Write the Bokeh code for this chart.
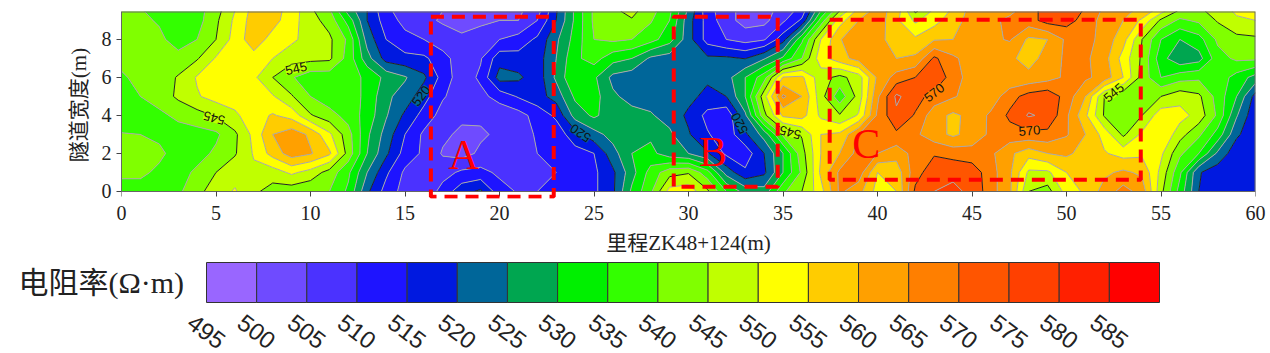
from math import radians
import numpy as np
from bokeh.core.properties import value
from bokeh.embed import file_html
from bokeh.layouts import column
from bokeh.models import BoxAnnotation, FixedTicker, LinearAxis, Range1d
from bokeh.plotting import figure
from bokeh.resources import INLINE

distance = list(range(61))
width_m = [0, 1, 2, 3, 4, 5, 6, 7, 8, 9, 9.5]

r_y0 = [538,538,538,539,543.5,547.5,550.5,546,543,542,541,540,534,521,513,508,506,512,518,521,512,509.5,510,511,512,514,519,531,539,552,553,546,535,528,527,539,545,553,566,562,553,555,571,575,576,574,567,561,545,543,552,556,562,567,563,546.5,533,520,516,516,516]
r_y1 = [541,541,539,538,541,545,548,549,547.5,551,548,543,536,525,516,509,507,508,511,511.5,509,509,509,510,512,514,519,528,537,543,544.5,537,523,516,519,530,541,556,566,568,555,557,568,573,574,573,567,561,549,549,555,559,559,561,559,548.5,536,520.5,517,516,516]
r_y2 = [541,542,541,538,538,541,544.5,550.5,557,562.5,560.5,556,543,530,521,513,509,504.5,503,506,508,509,510,511,513,515,523,530,531.5,527,525,520.5,514,512,520,530,543,555,560,567,565,562,567,569.5,568,567,566,561,557,560,561,558,555.5,553,554,551,541,535,524,516.5,516]
r_y3 = [540.3,540,539,538,538,539,544,551.5,560,563,559,551,542,531,523,515,509,506,504,504.2,506,508,510.5,512,518,523,527,528,529,526,520.5,515.5,512,519,527,541,545.5,555,556,565,568,569,566,562,559,562,566,568,568.5,568.5,565.5,560,553,544,551,555,547,541,533,521,516]
r_y4 = [537,537.5,539,541,543,545.5,549,553,555.5,553,545.5,542,538,533,525.5,519,513,508,506,506,506.5,508,512,516,527,531,527,527,525.5,523,519,513.5,511,524,543.5,556,557,549,545.5,550.5,566,574,569.5,562,559,561.5,566,571,575.5,574,566,556,544.5,541,545,553,552,548,539,525.5,516]
r_y5 = [538,540,542,546,549.5,552,552.5,552.5,550.5,545.5,540,537,537,534,526,523,517,510.5,507.5,508.5,512,515.5,518,522,531,532,526,523,523,525,521.5,518.5,520,530,548,566,560,547,537,547,564,576,572,568,565.5,563,562,568,572,573.5,568,560,545,541,543,545,548,546,538,530,518]
r_y6 = [539.5,541,542,545.5,550.5,552,552,551,545,540.5,537,537,537,534,528.5,525.5,521,513,507,511,522,521,517,526,535,531,523.5,522,522,522,521,521,523,530,538,555.5,556,547,543.5,547.5,561,567,570,575,567,563,560,561,561.5,563,566,566,563,555,543,535,538,539,538,533,528]
r_y7 = [541,541,541,541.5,544.5,550.5,552,553,550,547,546.5,546,538,527,518,516.5,516,512,507,509.5,518,517,517.5,525,534,537,532,530,524,522.5,522,521,521,519.8,524.5,531,540,553,558,562,561,560,561,571,566,562.5,561,561,558,562,566,566,562,553,544,532,526,528,538,541,541]
r_y8 = [541,541.5,541,538,540,545,552,558,553,551,548,546,539,523,515,511.5,510,507,506,508.5,510,512,516,524,532,540,541,540,537,532,522,513,510,508,509.5,518,534,550,559.5,565,563,555.5,556,559.5,560,562,564,565.5,559,560,566,567,563,557,545,535,530,533,541,543.5,544]
r_y9 = [541,541,539.5,537.5,538,544,551,557.5,557,552,547,543,533,520,512.5,508.5,506,504.5,503,503.5,505,505,510,520,531,541,543,544.5,540.5,535,522,513,507,503,503.5,509,516,537,553,560,563,556,549,553,558,562,564,566,568,572,572,568,563,560,554,544,539,541,545.5,549,550]
r_y95 = [541,540.5,538,537,538,543,550,557,557,553,546,541,528,520,511,508,506,505,503,503.5,504,504,508,519.5,531,541,544,546.5,542,536,524,512,507,503,503,507,512,530,545,557,562,558,544,551,556,562,563,564,567,573,575,569,564,561,559,552,544,544,547,551,552]

band_edges = [495 + 5 * i for i in range(20)]
band_labels = [str(v) for v in band_edges[:19]]
band_colors = ["#9966FF","#6F4BFF","#4B32FF","#1E14FF","#0019E0","#006699","#00A650","#00F000","#33FF00",
               "#80FF00","#C0FF00","#FFFF00","#FFCC00","#FFA000","#FF7F00","#FF5500","#FF4000","#FF2000","#FF0000"]
line_colors = ["#222222" if v in (520, 545, 570) else "#A8A8A8" for v in band_edges]

contour_text = ["545", "545", "520", "520", "520", "545", "570", "570", "545"]
contour_x = [4.9, 9.24, 15.85, 24.28, 32.7, 35.37, 43.0, 48.04, 52.5]
contour_y = [3.86, 6.47, 5.03, 3.07, 3.58, 3.1, 5.2, 3.2, 5.2]
contour_angle = [165, 13, 52, 146, 118, 165, 38, 5, 40]
contour_bg = ["#C0FF00", "#C0FF00", "#006699", "#006699", "#006699", "#C0FF00", "#FF7F00", "#FF7F00", "#C0FF00"]

zone_text = ["A", "B", "C"]
zone_x = [18.1, 31.3, 39.4]
zone_y = [1.94, 2.05, 2.5]
zone_left = [16.37, 29.22, 37.47]
zone_right = [22.87, 34.72, 53.93]
zone_top = [9.19, 9.19, 9.04]
zone_bottom = [-0.28, 0.25, 0.62]

x_ticks = list(range(0, 61, 5))
y_ticks = [0, 2, 4, 6, 8]

SERIF = "Liberation Serif, Noto Sans CJK SC"
SANS = "Liberation Sans"
FRAME = "#666666"
Y_TOP = 9.47

z = np.array([r_y0, r_y1, r_y2, r_y3, r_y4, r_y5, r_y6, r_y7, r_y8, r_y9, r_y95])

# frame reaches a little below y=0 so that box A's lower edge stays visible
p = figure(width=1270, height=258, output_backend="svg", toolbar_location=None,
           x_range=Range1d(0, 60), y_range=Range1d(-0.372, Y_TOP), frame_align=False,
           min_border_left=121, min_border_right=15, min_border_top=11, min_border_bottom=60,
           x_axis_label="里程ZK48+124(m)", y_axis_label="隧道宽度(m)")
p.grid.visible = False
p.outline_line_color = None
p.contour(distance, width_m, z, levels=band_edges, fill_color=band_colors,
          line_color=line_colors, line_width=1)
p.line([0, 60, 60], [Y_TOP, Y_TOP, 0], line_color=FRAME, line_width=2)

for ax, ticks in ((p.xaxis[0], x_ticks), (p.yaxis[0], y_ticks)):
    ax.ticker = FixedTicker(ticks=ticks)
    ax.minor_tick_line_color = None
    ax.major_tick_out = 5
    ax.major_tick_in = 0
    ax.axis_line_color = FRAME
    ax.major_tick_line_color = "#444444"
    ax.major_label_text_font = "Liberation Serif"
    ax.major_label_text_font_size = "20px"
    ax.major_label_text_color = "#222222"
    ax.axis_label_text_font = SERIF
    ax.axis_label_text_font_size = "21px"
    ax.axis_label_text_font_style = "normal"
    ax.axis_label_text_color = "#222222"
p.yaxis[0].bounds = (0, Y_TOP)
p.yaxis[0].major_label_standoff = 5
p.yaxis[0].axis_label_standoff = 8

# lower axis: its labels sit below the frame, its line and ticks sit at y=0
bottom = p.xaxis[0]
bottom.axis_line_color = None
bottom.major_tick_line_color = None
bottom.major_tick_out = 0
bottom.major_label_standoff = 7
bottom.axis_label_standoff = 8
zero_axis = LinearAxis(fixed_location=0, ticker=FixedTicker(ticks=x_ticks),
                       major_label_overrides={t: "" for t in x_ticks},
                       minor_tick_line_color=None, major_tick_out=5, major_tick_in=0,
                       axis_line_color=FRAME, major_tick_line_color="#444444")
p.add_layout(zero_axis, "below")

p.text(contour_x, contour_y, text=contour_text, angle=[radians(a) for a in contour_angle],
       text_align="center", text_baseline="middle", text_color="#111111",
       text_font=value(SANS), text_font_size="13px", background_fill_color=contour_bg)

for l, r, t, b in zip(zone_left, zone_right, zone_top, zone_bottom):
    p.add_layout(BoxAnnotation(left=l, right=r, top=t, bottom=b, fill_alpha=0, fill_color=None,
                               line_color="#FF0000", line_alpha=1, line_width=4, line_dash="13 8"))

p.text(zone_x, zone_y, text=zone_text, text_align="center", text_baseline="alphabetic",
       text_color="#FF0000", text_font=value("Liberation Serif"), text_font_size="42px")

# colour key: frame spans the whole canvas
scale = (1159 - 206) / 95
c = figure(width=1270, height=95, output_backend="svg", toolbar_location=None, frame_align=False,
           x_range=Range1d(495 - 206 / scale, 495 + 1064 / scale), y_range=Range1d(-1.275, 1.1),
           min_border_left=0, min_border_right=0, min_border_top=0, min_border_bottom=0)
c.axis.visible = False
c.grid.visible = False
c.outline_line_color = None
c.quad(left=band_edges[:-1], right=band_edges[1:], bottom=0, top=1, fill_color=band_colors,
       line_color="#333333", line_width=1)
c.text(band_edges[:19], [-0.725] * 19, text=band_labels, angle=radians(-37), text_align="center",
       text_baseline="middle", text_color="#222222", text_font=value(SANS), text_font_size="24px")
c.text([476.26], [0.5], text=["电阻率(Ω·m)"], text_align="left", text_baseline="middle",
       text_color="#222222", text_font=value(SERIF), text_font_size="30px")

page = column(p, c, spacing=0)
open("out.html", "w").write(file_html(page, INLINE))
